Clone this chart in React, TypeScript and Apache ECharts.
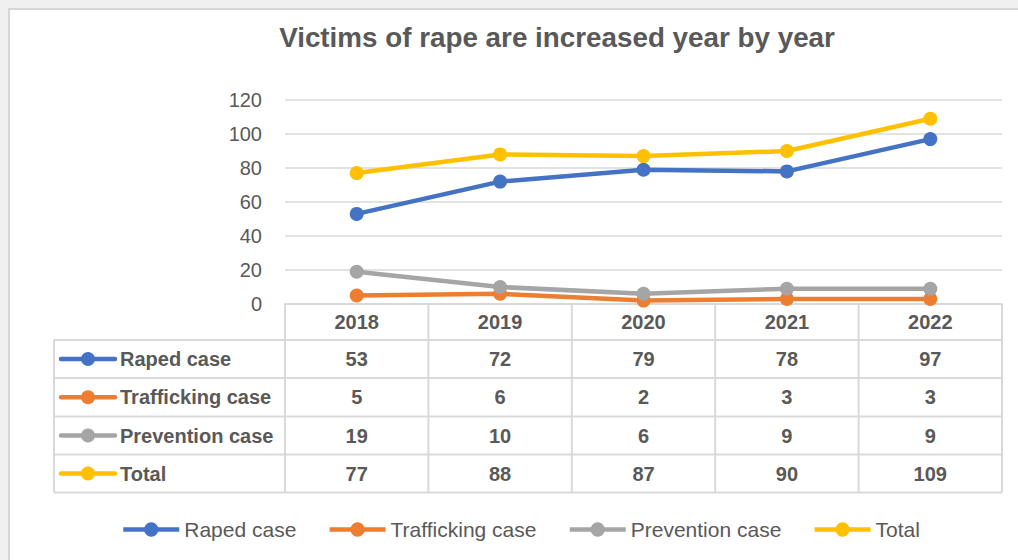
import React, { useEffect, useRef } from "react";
import * as echarts from "echarts";

const years = ["2018", "2019", "2020", "2021", "2022"];
const rapedCase = [53, 72, 79, 78, 97];
const traffickingCase = [5, 6, 2, 3, 3];
const preventionCase = [19, 10, 6, 9, 9];
const totalCase = [77, 88, 87, 90, 109];
const seriesNames = ["Raped case", "Trafficking case", "Prevention case", "Total"];
const seriesData = [rapedCase, traffickingCase, preventionCase, totalCase];
const colors = ["#4472C4", "#ED7D31", "#A5A5A5", "#FFC000"];
const titleText = "Victims of rape are increased year by year";

const TEXT = "#595959";
const GRID = "#d9d9d9";
const FONT = "'Liberation Sans', Arial, sans-serif";

// layout
const PLOT_LEFT = 285;
const PLOT_RIGHT = 1002;
const PLOT_TOP = 100;
const PLOT_BOTTOM = 304;
const TABLE_LEFT = 54;
const ROW_BOUNDS = [340, 378, 416.5, 454.5, 492.5];

export default function App() {
  const ref = useRef<HTMLDivElement>(null);

  useEffect(() => {
    if (!ref.current) return;
    const chart = echarts.init(ref.current, undefined, { renderer: "svg" });
    const option: any = {
      animation: false,
      backgroundColor: "transparent",
      textStyle: { fontFamily: FONT },
      grid: {
        left: PLOT_LEFT,
        right: 1018 - PLOT_RIGHT,
        top: PLOT_TOP,
        bottom: 560 - PLOT_BOTTOM,
        containLabel: false,
      },
      legend: {
        left: 121,
        top: 519,
        padding: 0,
        itemWidth: 56,
        itemHeight: 18,
        itemGap: 31,
        lineStyle: { width: 4.5 },
        textStyle: { color: TEXT, fontSize: 21, fontFamily: FONT },
        data: seriesNames,
      },
      xAxis: {
        type: "category",
        data: years,
        boundaryGap: true,
        axisLine: { show: true, lineStyle: { color: GRID, width: 2 } },
        axisTick: { show: false },
        axisLabel: {
          color: TEXT,
          fontSize: 20,
          fontWeight: "bold",
          fontFamily: FONT,
          margin: 8,
          lineHeight: 20,
        },
        splitLine: { show: false },
      },
      yAxis: {
        type: "value",
        min: 0,
        max: 120,
        interval: 20,
        axisLine: { show: false },
        axisTick: { show: false },
        axisLabel: { color: TEXT, fontSize: 20, fontFamily: FONT, margin: 23 },
        splitLine: { lineStyle: { color: GRID, width: 1.5 } },
      },
      series: seriesNames.map((name, i) => ({
        name,
        type: "line",
        data: seriesData[i],
        symbol: "circle",
        symbolSize: 14,
        color: colors[i],
        lineStyle: { width: 4.5, color: colors[i] },
        itemStyle: { color: colors[i] },
      })),
    };
    chart.setOption(option);

    const graphic: any[] = [];
    graphic.push({
      type: "text",
      x: (281 + 833) / 2,
      y: 37.5,
      z: 100,
      style: {
        text: titleText,
        fill: TEXT,
        font: `bold 27.8px ${FONT}`,
        textAlign: "center",
        textVerticalAlign: "middle",
      },
    });
    // table grid lines
    ROW_BOUNDS.forEach((y) => {
      graphic.push({
        type: "line",
        z: 1,
        shape: { x1: TABLE_LEFT, y1: y, x2: PLOT_RIGHT, y2: y },
        style: { stroke: GRID, lineWidth: 2 },
      });
    });
    graphic.push({
      type: "line",
      z: 1,
      shape: { x1: TABLE_LEFT, y1: ROW_BOUNDS[0], x2: TABLE_LEFT, y2: ROW_BOUNDS[4] },
      style: { stroke: GRID, lineWidth: 2 },
    });
    const catW = (PLOT_RIGHT - PLOT_LEFT) / years.length;
    for (let k = 0; k <= years.length; k++) {
      const x = PLOT_LEFT + k * catW;
      graphic.push({
        type: "line",
        z: 1,
        shape: { x1: x, y1: PLOT_BOTTOM, x2: x, y2: ROW_BOUNDS[4] },
        style: { stroke: GRID, lineWidth: 2 },
      });
    }
    // rows
    seriesNames.forEach((name, i) => {
      const yc = (ROW_BOUNDS[i] + ROW_BOUNDS[i + 1]) / 2;
      graphic.push({
        type: "line",
        z: 5,
        shape: { x1: 61, y1: yc, x2: 115, y2: yc },
        style: { stroke: colors[i], lineWidth: 4.5, lineCap: "round" },
      });
      graphic.push({
        type: "circle",
        z: 6,
        shape: { cx: 88, cy: yc, r: 7 },
        style: { fill: colors[i] },
      });
      graphic.push({
        type: "text",
        x: 120,
        y: yc,
        z: 10,
        style: {
          text: name,
          fill: TEXT,
          font: `bold 20px ${FONT}`,
          textAlign: "left",
          textVerticalAlign: "middle",
        },
      });
      seriesData[i].forEach((v, j) => {
        const px = chart.convertToPixel({ xAxisIndex: 0 }, years[j]) as number;
        graphic.push({
          type: "text",
          x: px,
          y: yc,
          z: 10,
          style: {
            text: String(v),
            fill: TEXT,
            font: `bold 20px ${FONT}`,
            textAlign: "center",
            textVerticalAlign: "middle",
          },
        });
      });
    });
    chart.setOption({ graphic });

    return () => chart.dispose();
  }, []);

  return (
    <div
      style={{
        position: "absolute",
        left: 0,
        top: 0,
        width: 1018,
        height: 560,
        background: "#f0f0f0",
        overflow: "hidden",
      }}
    >
      <div
        style={{
          position: "absolute",
          left: 8,
          top: 8,
          width: 1020,
          height: 560,
          background: "#ffffff",
          borderLeft: "2px solid #d6d6d6",
          borderTop: "2px solid #d6d6d6",
          boxSizing: "border-box",
        }}
      />
      <div
        ref={ref}
        style={{ position: "absolute", left: 0, top: 0, width: 1018, height: 560 }}
      />
    </div>
  );
}
